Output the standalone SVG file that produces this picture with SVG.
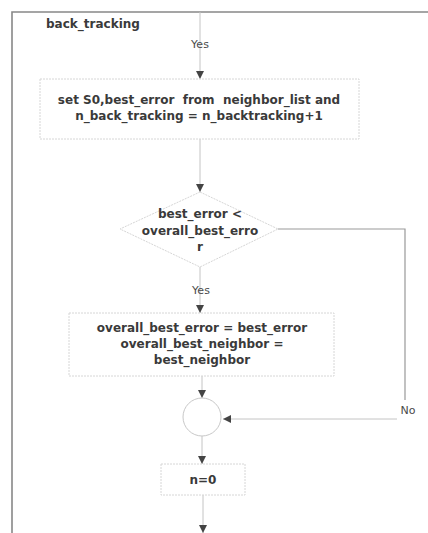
<svg xmlns="http://www.w3.org/2000/svg" width="428" height="533" viewBox="0 0 428 533">
  <defs>
    <marker id="arrow" viewBox="0 0 10 10" refX="10" refY="5" markerWidth="8" markerHeight="8" markerUnits="userSpaceOnUse" orient="auto">
      <path d="M0,0 L10,5 L0,10 Z" fill="#444"/>
    </marker>
    <style>
      .frame { fill: none; stroke: #888; stroke-width: 1.6; }
      .edge { fill: none; stroke: #c4c4c4; stroke-width: 1; }
      .edge-dark { fill: none; stroke: #999; stroke-width: 1.2; }
      .box { fill: #fff; stroke: #d6d6d6; stroke-width: 1; stroke-dasharray: 2 1; }
      .label { font-family: "DejaVu Sans", Verdana, sans-serif; font-size: 12px; font-weight: bold; fill: #3a3a3a; text-anchor: middle; white-space: pre; }
      .cond { font-family: "DejaVu Sans", Verdana, sans-serif; font-size: 11px; fill: #4a4a4a; text-anchor: middle; }
      .title { font-family: "DejaVu Sans", Verdana, sans-serif; font-size: 12px; font-weight: bold; fill: #3a3a3a; }
    </style>
  </defs>
  <rect width="428" height="533" fill="#fff"/>

  <!-- swimlane frame -->
  <g id="lane">
    <path class="frame" d="M12,533 L12,12 L428,12"/>
    <text class="title" x="46" y="28">back_tracking</text>
  </g>

  <g id="connectors">
    <line class="edge" x1="200" y1="12" x2="200" y2="79" marker-end="url(#arrow)"/>
    <text class="cond" x="200" y="48">Yes</text>
    <line class="edge" x1="200" y1="139" x2="200" y2="192" marker-end="url(#arrow)"/>
    <line class="edge" x1="200" y1="267" x2="200" y2="313" marker-end="url(#arrow)"/>
    <text class="cond" x="201" y="294">Yes</text>
    <line class="edge" x1="202" y1="376" x2="202" y2="398" marker-end="url(#arrow)"/>
    <line class="edge" x1="202" y1="436" x2="202" y2="464" marker-end="url(#arrow)"/>
    <line class="edge" x1="203" y1="495" x2="203" y2="533" marker-end="url(#arrow)"/>
    <polyline class="edge-dark" points="278,229 405,229 405,400"/>
    <line class="edge" x1="397" y1="419" x2="223" y2="419" marker-end="url(#arrow)"/>
    <text class="cond" x="408" y="414">No</text>
  </g>

  <g id="set-s0">
    <rect class="box" x="40" y="79" width="319" height="60"/>
    <text class="label" x="199" y="104" xml:space="preserve">set S0,best_error  from  neighbor_list and</text>
    <text class="label" x="199" y="120">n_back_tracking = n_backtracking+1</text>
  </g>

  <g id="check-error">
    <polygon class="box" points="200,192 278,229 200,267 120,229"/>
    <text class="label" x="200" y="218">best_error &lt;</text>
    <text class="label" x="200" y="235">overall_best_erro</text>
    <text class="label" x="200" y="251">r</text>
  </g>

  <g id="update-best">
    <rect class="box" x="69" y="313" width="265" height="63"/>
    <text class="label" x="202" y="332">overall_best_error = best_error</text>
    <text class="label" x="202" y="348">overall_best_neighbor =</text>
    <text class="label" x="202" y="364">best_neighbor</text>
  </g>

  <g id="merge">
    <circle cx="202" cy="417" r="19" fill="#fff" stroke="#c8c8c8" stroke-width="1"/>
  </g>

  <g id="reset-n">
    <rect class="box" x="161" y="464" width="84" height="31"/>
    <text class="label" x="203" y="484">n=0</text>
  </g>
</svg>
